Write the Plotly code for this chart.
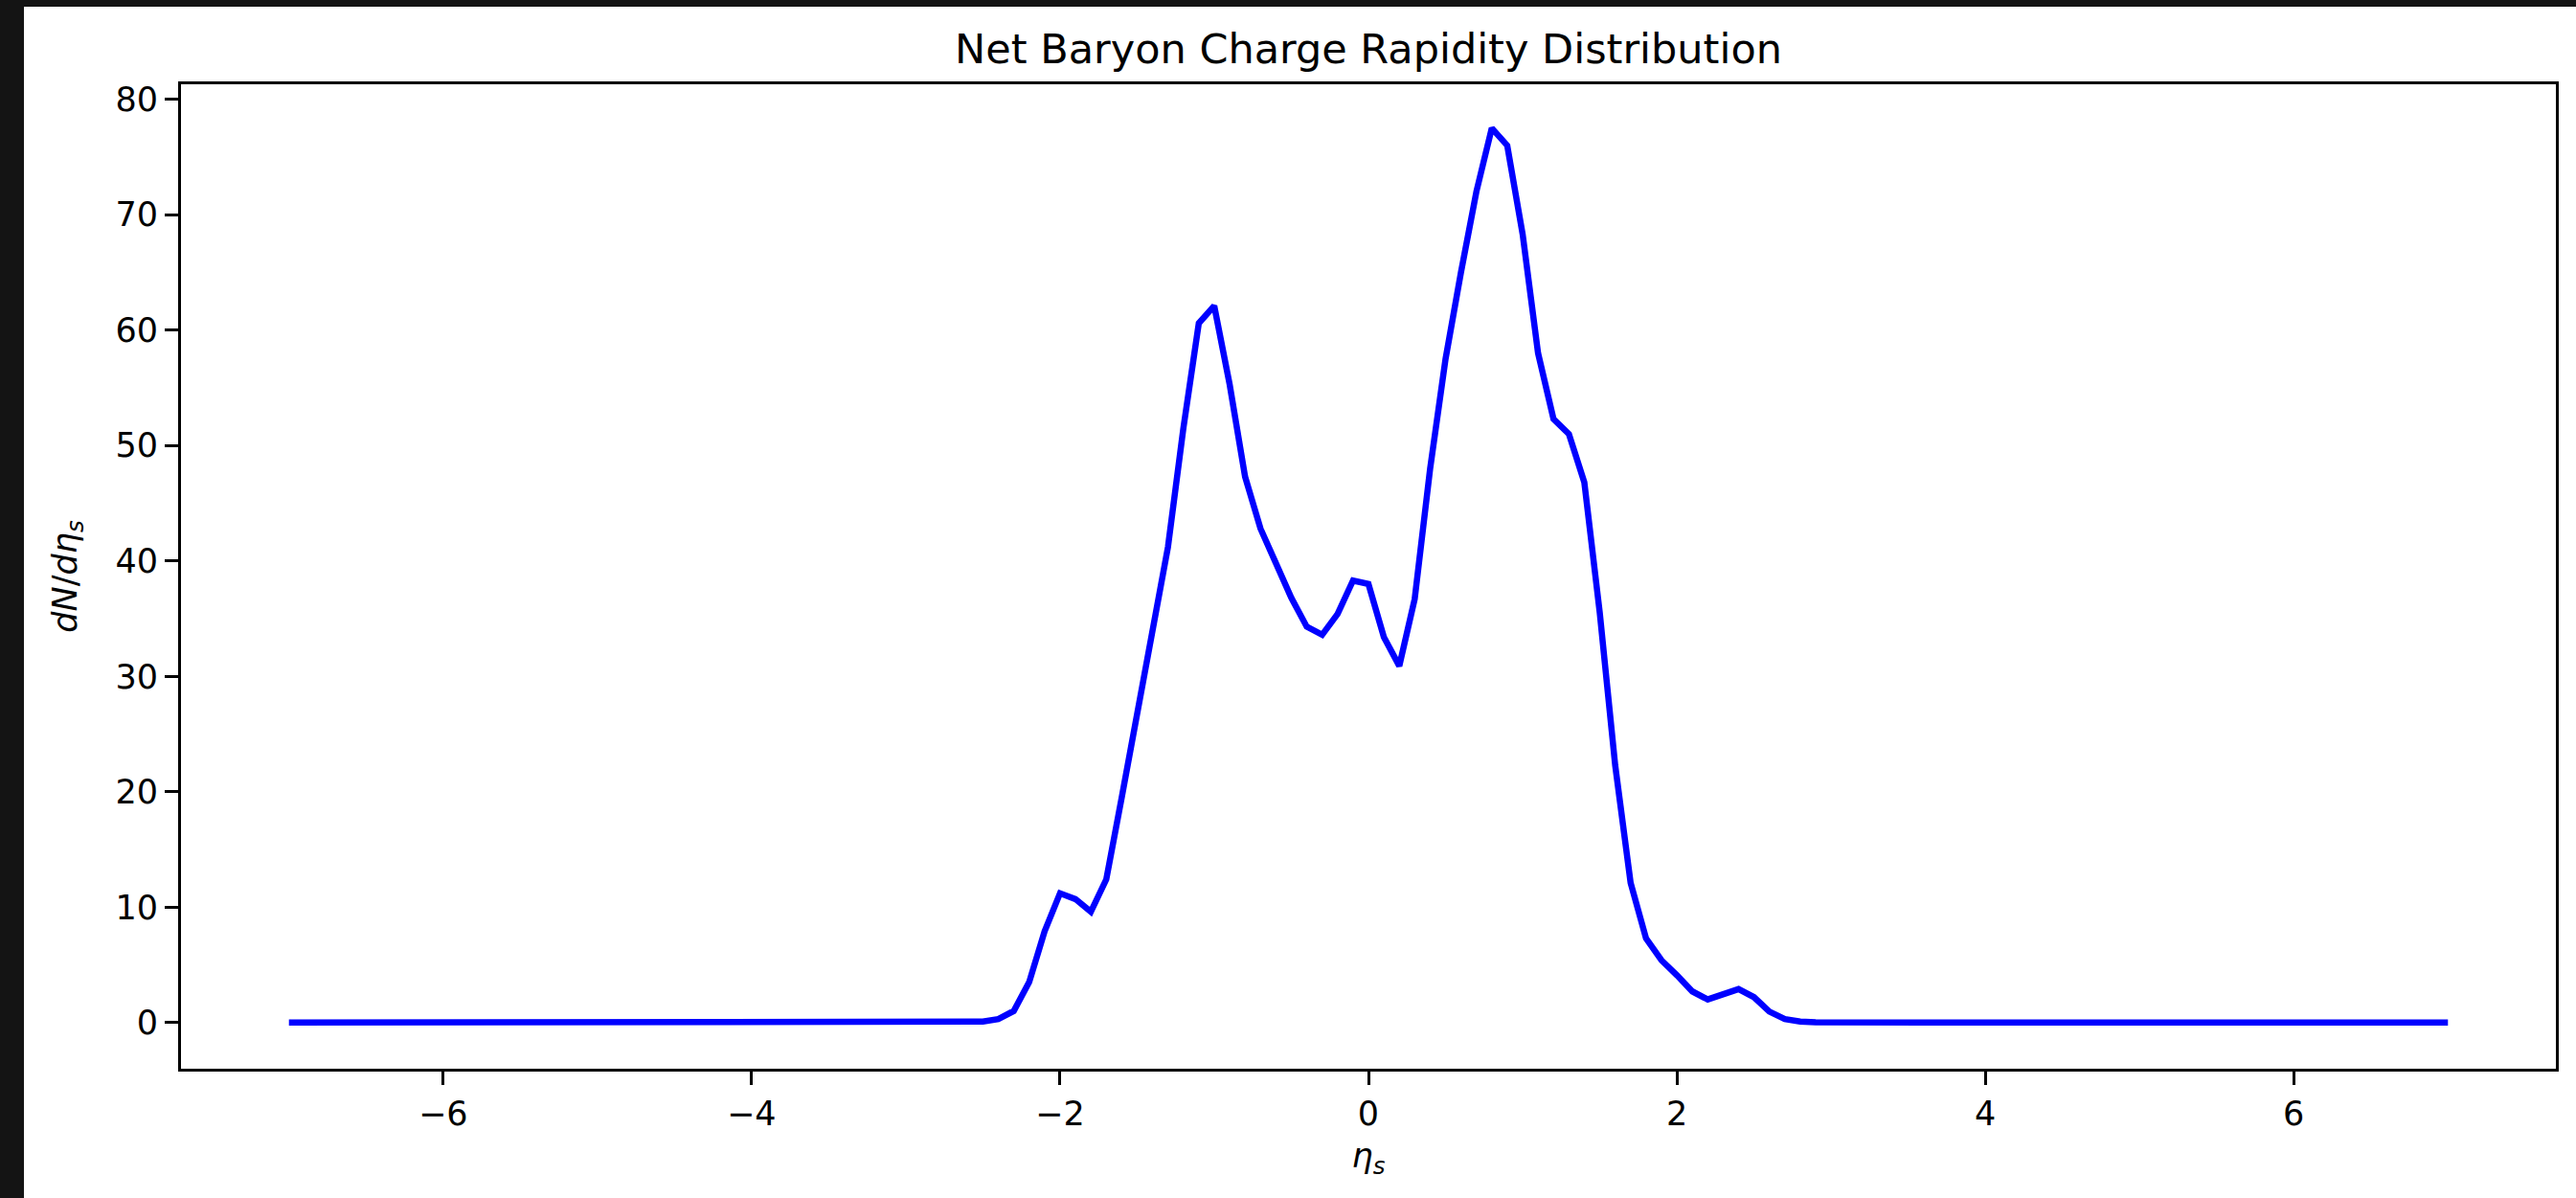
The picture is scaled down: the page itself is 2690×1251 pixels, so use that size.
import numpy as np
import plotly.graph_objects as go

# ---- data ----
eta_min, eta_max, eta_step = -7.0, 7.0, 0.1
eta_s = np.round(np.arange(eta_min, eta_max + eta_step / 2, eta_step), 2)

# non-zero part of the distribution (eta -> dN/deta)
nonzero_eta = [-2.6, -2.5, -2.4, -2.3, -2.2, -2.1, -2.0, -1.9, -1.8, -1.7, -1.6, -1.5,
               -1.4, -1.3, -1.2, -1.1, -1.0, -0.9, -0.8, -0.7, -0.6, -0.5, -0.4, -0.3,
               -0.2, -0.1, 0.0, 0.1, 0.2, 0.3, 0.4, 0.5, 0.6, 0.7, 0.8, 0.9, 1.0, 1.1,
               1.2, 1.3, 1.4, 1.5, 1.6, 1.7, 1.8, 1.9, 2.0, 2.1, 2.2, 2.3, 2.4, 2.5,
               2.6, 2.7, 2.8, 2.9]
nonzero_vals = [0.02, 0.08, 0.3, 1.0, 3.5, 7.9, 11.2, 10.7, 9.6, 12.4, 19.5, 26.5,
                33.5, 41.2, 51.5, 60.6, 62.1, 55.3, 47.3, 42.8, 39.8, 36.8, 34.3, 33.6,
                35.4, 38.3, 38.0, 33.4, 30.9, 36.7, 48.0, 57.5, 65.0, 72.0, 77.5, 76.0,
                68.3, 58.0, 52.3, 51.0, 46.8, 35.5, 22.3, 12.1, 7.3, 5.4, 4.1, 2.7,
                2.0, 2.5, 2.9, 2.2, 0.95, 0.3, 0.08, 0.02]

lookup = {round(e, 2): v for e, v in zip(nonzero_eta, nonzero_vals)}
dN_deta = [lookup.get(round(float(e), 2), 0.0) for e in eta_s]

x_ticks = [-6, -4, -2, 0, 2, 4, 6]
y_ticks = [0, 10, 20, 30, 40, 50, 60, 70, 80]

# ---- layout geometry ----
W, H = 2690, 1251
L, R, T, B = 189, 21, 88, 135
PW, PH = W - L - R, H - T - B
FONT = "DejaVu Sans"

fig = go.Figure()
fig.add_trace(go.Scatter(x=eta_s, y=dN_deta, mode="lines",
                         line=dict(color="#0000ff", width=6.5),
                         hoverinfo="skip", showlegend=False))

def px_to_paper_x(p):
    return (p - L) / PW

def px_to_paper_y(p):
    return 1 - (p - T) / PH

# dark screenshot frame (left and top strips)
fig.add_shape(type="rect", xref="paper", yref="paper",
              x0=px_to_paper_x(0), x1=px_to_paper_x(25),
              y0=px_to_paper_y(H), y1=px_to_paper_y(0),
              fillcolor="#141414", line_width=0, layer="above")
fig.add_shape(type="rect", xref="paper", yref="paper",
              x0=px_to_paper_x(0), x1=px_to_paper_x(W),
              y0=px_to_paper_y(7), y1=px_to_paper_y(0),
              fillcolor="#141414", line_width=0, layer="above")

axis_common = dict(showgrid=False, zeroline=False, showline=True, mirror=True,
                   linecolor="black", linewidth=3, ticks="outside", ticklen=14,
                   tickwidth=3, tickcolor="black",
                   tickfont=dict(family=FONT, size=35, color="black"))

fig.update_layout(
    width=W, height=H,
    margin=dict(l=L, r=R, t=T, b=B, pad=0),
    paper_bgcolor="white", plot_bgcolor="white",
    title=dict(text="Net Baryon Charge Rapidity Distribution",
               x=(L + PW / 2) / W, xanchor="center",
               y=1 - 51 / H, yanchor="middle",
               font=dict(family=FONT, size=43, color="black")),
    xaxis=dict(range=[-7.7, 7.7], tickvals=x_ticks,
               title=dict(text="<i>η<sub>s</sub></i>", standoff=13,
                          font=dict(family=FONT, size=35, color="black")),
               **axis_common),
    yaxis=dict(range=[-4.0, 81.3], tickvals=y_ticks,
               title=dict(text="<i>dN</i>/<i>dη<sub>s</sub></i>", standoff=30,
                          font=dict(family=FONT, size=35, color="black")),
               **axis_common),
)

fig.write_html("out.html",
               config={"displayModeBar": False, "staticPlot": True},
               post_script="document.body.style.margin='0';document.body.style.overflow='hidden';")
